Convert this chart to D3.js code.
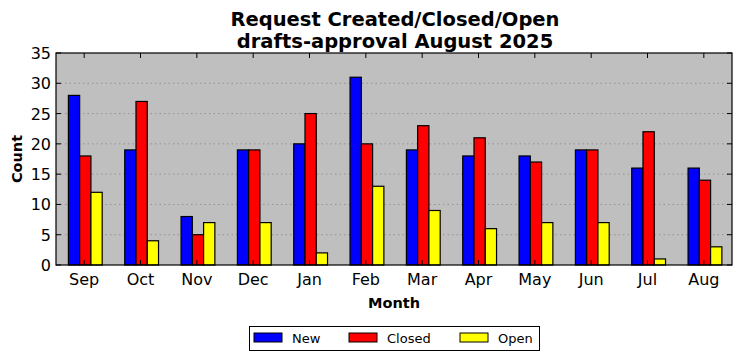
<!DOCTYPE html>
<html><head><meta charset="utf-8">
<script src="https://cdn.jsdelivr.net/npm/d3@7"></script>
<style>body{margin:0;background:#fff;}svg{display:block;font-family:"DejaVu Sans",sans-serif;}</style>
</head><body>
<svg id="c" width="742" height="361"></svg>
<script>
const months = ["Sep","Oct","Nov","Dec","Jan","Feb","Mar","Apr","May","Jun","Jul","Aug"];
const seriesNames = ["New","Closed","Open"];
const seriesColors = ["#0000ff","#ff0000","#ffff00"];
const newVals = [28,19,8,19,20,31,19,18,18,19,16,16];
const closedVals = [18,27,5,19,25,20,23,21,17,19,22,14];
const openVals = [12,4,7,7,2,13,9,6,7,7,1,3];
const yTicks = [0,5,10,15,20,25,30,35];
const series = [newVals, closedVals, openVals];

const svg = d3.select("#c");
const L = 56, R = 732, T = 53, B = 265;
const x = d3.scaleLinear().domain([-0.5, 11.5]).range([L, R]);
const y = d3.scaleLinear().domain([0, 35]).range([B, T]);
const bw = 0.2;

svg.append("rect").attr("x", L).attr("y", T).attr("width", R - L).attr("height", B - T).attr("fill", "#bfbfbf");

// grid
svg.append("g").selectAll("line").data(yTicks.slice(1, -1)).join("line")
  .attr("x1", L).attr("x2", R).attr("y1", d => y(d)).attr("y2", d => y(d))
  .attr("stroke", "#888").attr("stroke-width", 0.8).attr("stroke-dasharray", "1.5,3");

// bars
series.forEach((vals, si) => {
  svg.append("g").selectAll("rect").data(vals).join("rect")
    .attr("x", (d, i) => x(i + (si - 1.4) * bw))
    .attr("width", x(bw) - x(0))
    .attr("y", d => y(d))
    .attr("height", d => y(0) - y(d))
    .attr("fill", seriesColors[si])
    .attr("stroke", "#000").attr("stroke-width", 1.2);
});

// frame
svg.append("rect").attr("x", L).attr("y", T).attr("width", R - L).attr("height", B - T)
  .attr("fill", "none").attr("stroke", "#000").attr("stroke-width", 1.2);

// ticks inward
const tk = svg.append("g").attr("stroke", "#000").attr("stroke-width", 1);
months.forEach((m, i) => {
  tk.append("line").attr("x1", x(i)).attr("x2", x(i)).attr("y1", B).attr("y2", B - 5);
  tk.append("line").attr("x1", x(i)).attr("x2", x(i)).attr("y1", T).attr("y2", T + 5);
});
yTicks.forEach(v => {
  tk.append("line").attr("x1", L).attr("x2", L + 5).attr("y1", y(v)).attr("y2", y(v));
  tk.append("line").attr("x1", R).attr("x2", R - 5).attr("y1", y(v)).attr("y2", y(v));
});

// tick labels
svg.append("g").selectAll("text").data(months).join("text")
  .attr("x", (d, i) => x(i)).attr("y", B + 20).attr("text-anchor", "middle")
  .attr("font-size", 16).text(d => d);
svg.append("g").selectAll("text").data(yTicks).join("text")
  .attr("x", L - 5).attr("y", d => y(d) + 6).attr("text-anchor", "end")
  .attr("font-size", 16).text(d => d);

// titles
svg.append("text").attr("x", 395).attr("y", 26).attr("text-anchor", "middle")
  .attr("font-size", 19.5).attr("font-weight", "bold").text("Request Created/Closed/Open");
svg.append("text").attr("x", 395).attr("y", 48).attr("text-anchor", "middle")
  .attr("font-size", 19.5).attr("font-weight", "bold").text("drafts-approval August 2025");
svg.append("text").attr("x", 394).attr("y", 308).attr("text-anchor", "middle")
  .attr("font-size", 14.5).attr("font-weight", "bold").text("Month");
svg.append("text").attr("transform", "translate(22,159) rotate(-90)").attr("text-anchor", "middle")
  .attr("font-size", 14.5).attr("font-weight", "bold").text("Count");

// legend
const lg = svg.append("g");
lg.append("rect").attr("x", 249.5).attr("y", 326.5).attr("width", 290).attr("height", 24)
  .attr("fill", "#fff").attr("stroke", "#000").attr("stroke-width", 1);
const lx = [254, 349, 460];
seriesNames.forEach((n, i) => {
  lg.append("rect").attr("x", lx[i]).attr("y", 333).attr("width", 28).attr("height", 9)
    .attr("fill", seriesColors[i]).attr("stroke", "#000").attr("stroke-width", 1);
  lg.append("text").attr("x", lx[i] + 38).attr("y", 343).attr("font-size", 13).text(n);
});
</script>
</body></html>
